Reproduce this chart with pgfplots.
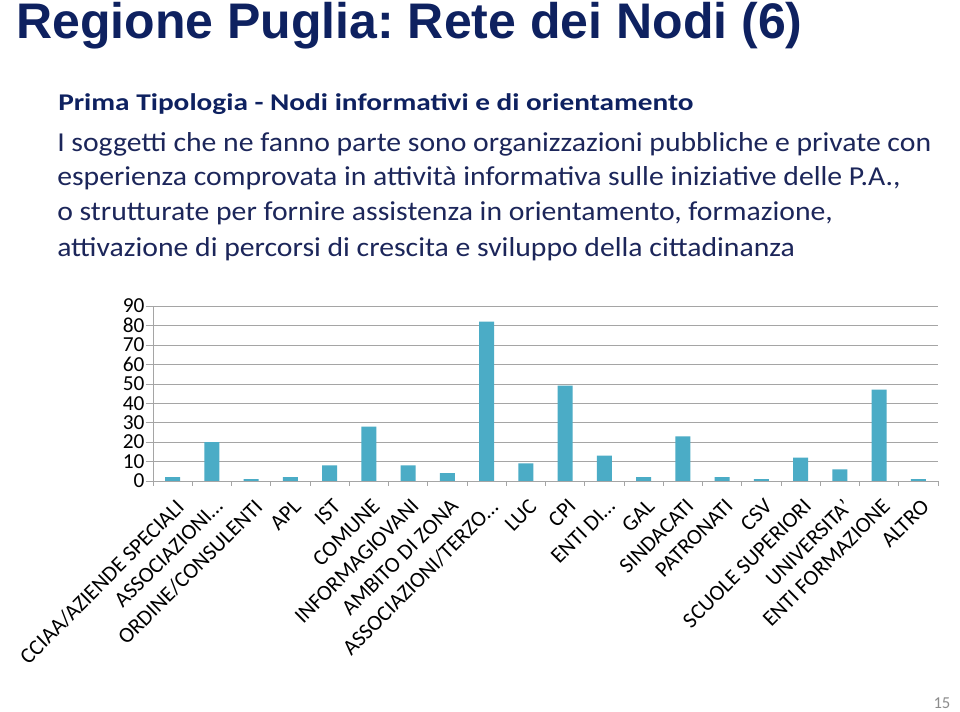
\documentclass[border=0pt]{standalone}
\usepackage{fontspec}
\setmainfont{Carlito}
\newfontfamily\titlefont{Liberation Sans}
\usepackage{pgfplots}
\pgfplotsset{compat=1.18}
\definecolor{navy}{RGB}{14,33,96}
\definecolor{bodyblue}{RGB}{28,38,90}
\definecolor{barblue}{RGB}{75,172,198}
\definecolor{gridgray}{RGB}{165,165,165}
\definecolor{pagegray}{RGB}{140,140,140}
\frenchspacing

\begin{document}
\begin{tikzpicture}
% slide 960x712 px -> 720x534 pt
\path[fill=white] (0,0) rectangle (720pt,534pt);

% titolo e testo
\node[anchor=base west, inner sep=0, text=navy,
      font=\titlefont\bfseries\fontsize{37.5}{40}\selectfont]
  at (12pt,504.75pt) {Regione Puglia: Rete dei Nodi (6)};
\node[anchor=base west, inner sep=0, text=navy,
      font=\bfseries\fontsize{18}{22}\selectfont]
  at (43.5pt,451pt) {\scalebox{1.22}[1]{Prima Tipologia - Nodi informativi e di orientamento}};
\begin{scope}[every node/.style={anchor=base west, inner sep=0, text=bodyblue,
      font=\fontsize{20.5}{24}\selectfont}]
  \node at (42.75pt,420.2pt) {\scalebox{1.087}[1]{I soggetti che ne fanno parte sono organizzazioni pubbliche e private con}};
  \node at (42.75pt,394.7pt) {\scalebox{1.087}[1]{esperienza comprovata in attività informativa sulle iniziative delle P.A.,}};
  \node at (42.75pt,368.5pt) {\scalebox{1.087}[1]{o strutturate per fornire assistenza in orientamento, formazione,}};
  \node at (42.75pt,341.5pt) {\scalebox{1.087}[1]{attivazione di percorsi di crescita e sviluppo della cittadinanza}};
\end{scope}
\node[anchor=base east, inner sep=0, text=pagegray, font=\fontsize{12.5}{14}\selectfont]
  at (713pt,2.5pt) {15};

\begin{axis}[
  at={(114.75pt,173.25pt)}, anchor=south west,
  scale only axis, width=588.75pt, height=131.25pt,
  xmin=-0.5, xmax=19.5,
  ymin=0, ymax=90,
  ytick={0,10,...,90},
  xtick={0,...,19},
  xticklabels={CCIAA/AZIENDE SPECIALI, ASSOCIAZIONI…, ORDINE/CONSULENTI, APL, IST,
    COMUNE, INFORMAGIOVANI, AMBITO DI ZONA, ASSOCIAZIONI/TERZO…, LUC, CPI, ENTI DI…,
    GAL, SINDACATI, PATRONATI, CSV, SCUOLE SUPERIORI, UNIVERSITA', ENTI FORMAZIONE, ALTRO},
  minor xtick={-0.5,0.5,...,19.5},
  major x tick style={draw=none},
  minor x tick style={gridgray, thin},
  minor tick length=3.75pt,
  y tick style={gridgray, thin},
  major tick length=5.25pt,
  tick align=outside,
  axis x line*=bottom, axis y line*=left,
  axis line style={gridgray, thin},
  ymajorgrids, grid style={gridgray, thin},
  /pgf/number format/assume math mode=true,
  yticklabel style={font=\fontsize{16}{18}\selectfont, inner sep=1pt},
  xticklabel style={font=\fontsize{16.5}{18}\selectfont, rotate=45, anchor=north east,
    inner sep=1pt, xshift=-3pt, yshift=-5pt},
]
  \addplot[ybar, fill=barblue, draw=none, bar width=11.25pt] coordinates {
    (0,2) (1,20) (2,1) (3,2) (4,8) (5,28) (6,8) (7,4) (8,82) (9,9)
    (10,49) (11,13) (12,2) (13,23) (14,2) (15,1) (16,12) (17,6) (18,47) (19,1)
  };
\end{axis}
\end{tikzpicture}
\end{document}
